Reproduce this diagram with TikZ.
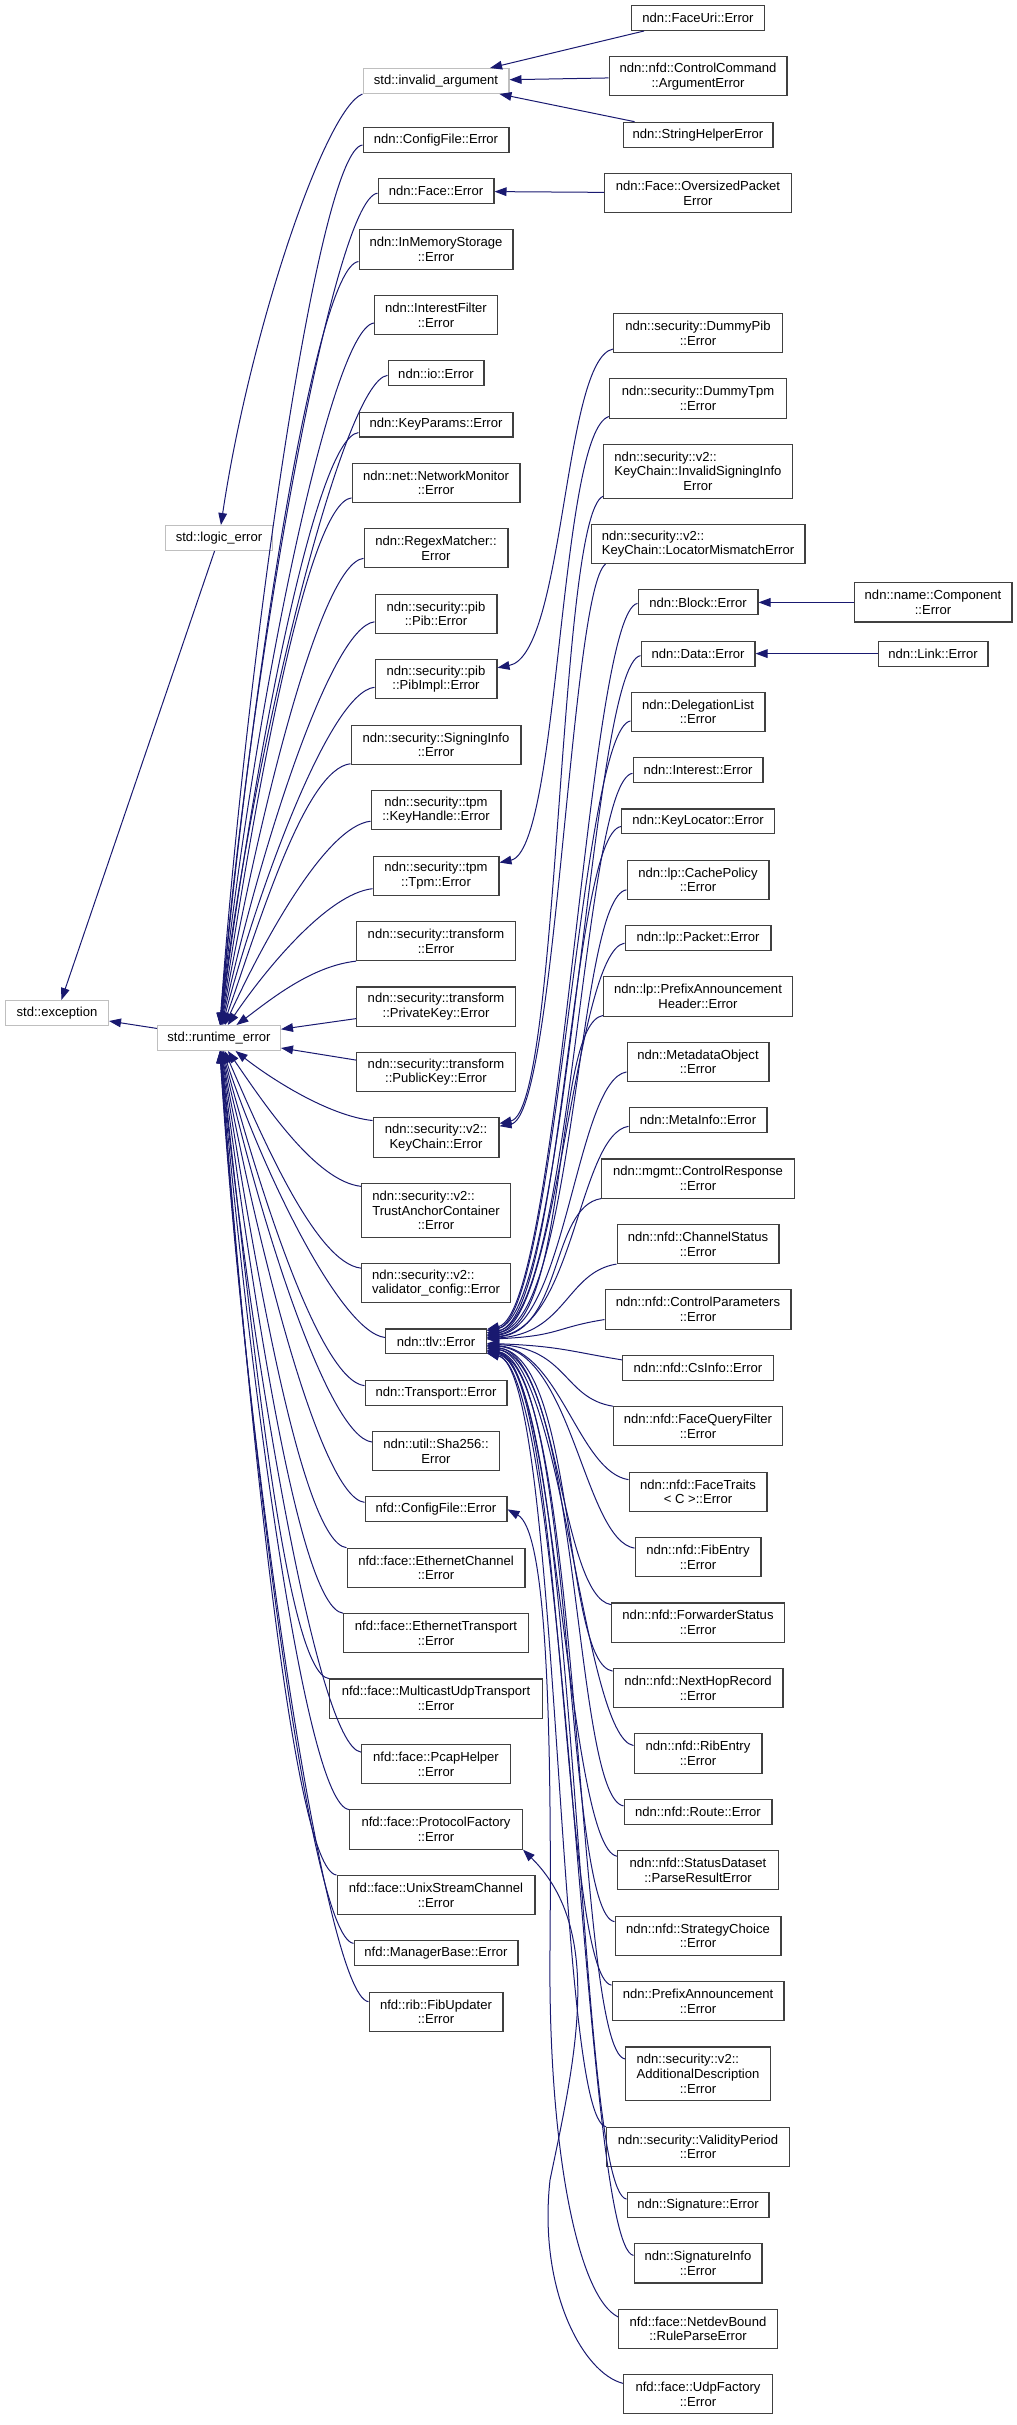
\documentclass[tikz,border=0pt]{standalone}
\usepackage{fontspec}
\setmainfont{Liberation Sans}
\usetikzlibrary{positioning, calc, arrows.meta}
\definecolor{edgeblue}{HTML}{191970}
\definecolor{extgray}{HTML}{BFBFBF}
\definecolor{clsgray}{HTML}{404040}
\tikzstyle{cls} = [rectangle, draw=clsgray, fill=white, line width=0.8pt, inner sep=1pt, minimum height=18.7pt, align=center, font=\fontsize{9.8}{11}\selectfont]
\tikzstyle{ext} = [cls, draw=extgray]
\tikzstyle{ln2} = [minimum height=29.4pt]
\tikzstyle{ln3} = [minimum height=40.4pt]
\tikzset{bw/.style={minimum width=#1*0.75pt-0.8pt}}
\tikzstyle{subclass} = [draw=edgeblue, line width=0.75pt, ->, >={Triangle[length=9pt, width=6.5pt]}]
\newcommand{\leftpad}[2]{\rlap{#1}\phantom{#2}}

\begin{document}
\begin{tikzpicture}[x=0.75pt, y=-0.75pt, node distance=18.9pt]
\useasboundingbox (0,0) rectangle (1017,2425);
%std classes
\node (exc) [ext, bw=104] at (57,1013) {std::exception};
\node (rt) [ext, bw=124] at (219,1038) {std::runtime\_error};
\node (logic) [ext, bw=108] at (219,538) {std::logic\_error};
\node (inv) [ext, bw=147] at (436,81) {std::invalid\_argument};
%left column
\node (ndncfg) [cls, bw=147] at (436,140) {ndn::ConfigFile::Error};
\node (face) [cls, bw=117, below=of ndncfg] {ndn::Face::Error};
\node (inmem) [cls, ln2, bw=155, below=of face] {ndn::InMemoryStorage\\::Error};
\node (intf) [cls, ln2, bw=124, below=of inmem] {ndn::InterestFilter\\::Error};
\node (io) [cls, bw=97, below=of intf] {ndn::io::Error};
\node (keyparams) [cls, bw=155, below=of io] {ndn::KeyParams::Error};
\node (netmon) [cls, ln2, bw=169, below=of keyparams] {ndn::net::NetworkMonitor\\::Error};
\node (regex) [cls, ln2, bw=145, below=of netmon] {ndn::RegexMatcher::\\Error};
\node (pib) [cls, ln2, bw=123, below=of regex] {ndn::security::pib\\::Pib::Error};
\node (pibimpl) [cls, ln2, bw=123, below=of pib] {ndn::security::pib\\::PibImpl::Error};
\node (signinfo) [cls, ln2, bw=171, below=of pibimpl] {ndn::security::SigningInfo\\::Error};
\node (keyhandle) [cls, ln2, bw=131, below=of signinfo] {ndn::security::tpm\\::KeyHandle::Error};
\node (tpm) [cls, ln2, bw=127, below=of keyhandle] {ndn::security::tpm\\::Tpm::Error};
\node (transform) [cls, ln2, bw=160, below=of tpm] {ndn::security::transform\\::Error};
\node (privkey) [cls, ln2, bw=160, below=of transform] {ndn::security::transform\\::PrivateKey::Error};
\node (pubkey) [cls, ln2, bw=160, below=of privkey] {ndn::security::transform\\::PublicKey::Error};
\node (keychain) [cls, ln2, bw=127, below=of pubkey] {ndn::security::v2::\\KeyChain::Error};
\node (trust) [cls, ln3, bw=150, below=of keychain] {\leftpad{ndn::security::v2::}{TrustAnchorContainer}\\TrustAnchorContainer\\::Error};
\node (validator) [cls, ln2, bw=150, below=of trust] {\leftpad{ndn::security::v2::}{validator\_config::Error}\\validator\_config::Error};
\node (tlv) [cls, bw=102, below=of validator] {ndn::tlv::Error};
\node (transport) [cls, bw=143, below=of tlv] {ndn::Transport::Error};
\node (sha) [cls, ln2, bw=128, below=of transport] {ndn::util::Sha256::\\Error};
\node (nfdcfg) [cls, bw=143, below=of sha] {nfd::ConfigFile::Error};
\node (ethch) [cls, ln2, bw=179, below=of nfdcfg] {nfd::face::EthernetChannel\\::Error};
\node (ethtr) [cls, ln2, bw=186, below=of ethch] {nfd::face::EthernetTransport\\::Error};
\node (mcast) [cls, ln2, bw=214, below=of ethtr] {nfd::face::MulticastUdpTransport\\::Error};
\node (pcap) [cls, ln2, bw=150, below=of mcast] {nfd::face::PcapHelper\\::Error};
\node (protocol) [cls, ln2, bw=174, below=of pcap] {nfd::face::ProtocolFactory\\::Error};
\node (unix) [cls, ln2, bw=199, below=of protocol] {nfd::face::UnixStreamChannel\\::Error};
\node (manager) [cls, bw=165, below=of unix] {nfd::ManagerBase::Error};
\node (fibupd) [cls, ln2, bw=135, below=of manager] {nfd::rib::FibUpdater\\::Error};
%right column, top
\node (faceuri) [cls, bw=134] at (698,18) {ndn::FaceUri::Error};
\node (ctrlcmd) [cls, ln2, bw=179, below=of faceuri] {ndn::nfd::ControlCommand\\::ArgumentError};
\node (strhelper) [cls, bw=151, below=of ctrlcmd] {ndn::StringHelperError};
\node (oversized) [cls, ln2, bw=188, below=of strhelper] {ndn::Face::OversizedPacket\\Error};
%right column
\node (dummypib) [cls, ln2, bw=170] at (698,333) {ndn::security::DummyPib\\::Error};
\node (dummytpm) [cls, ln2, bw=178, below=of dummypib] {ndn::security::DummyTpm\\::Error};
\node (invsign) [cls, ln3, bw=190, below=of dummytpm] {\leftpad{ndn::security::v2::}{KeyChain::InvalidSigningInfo}\\KeyChain::InvalidSigningInfo\\Error};
\node (locmis) [cls, ln2, bw=215, below=of invsign] {\leftpad{ndn::security::v2::}{KeyChain::LocatorMismatchError}\\KeyChain::LocatorMismatchError};
\node (block) [cls, bw=121, below=of locmis] {ndn::Block::Error};
\node (data) [cls, bw=115, below=of block] {ndn::Data::Error};
\node (deleg) [cls, ln2, bw=135, below=of data] {ndn::DelegationList\\::Error};
\node (interest) [cls, bw=131, below=of deleg] {ndn::Interest::Error};
\node (keyloc) [cls, bw=154, below=of interest] {ndn::KeyLocator::Error};
\node (cache) [cls, ln2, bw=143, below=of keyloc] {ndn::lp::CachePolicy\\::Error};
\node (packet) [cls, bw=147, below=of cache] {ndn::lp::Packet::Error};
\node (pahdr) [cls, ln2, bw=190, below=of packet] {ndn::lp::PrefixAnnouncement\\Header::Error};
\node (metadata) [cls, ln2, bw=143, below=of pahdr] {ndn::MetadataObject\\::Error};
\node (metainfo) [cls, bw=139, below=of metadata] {ndn::MetaInfo::Error};
\node (ctrlresp) [cls, ln2, bw=194, below=of metainfo] {ndn::mgmt::ControlResponse\\::Error};
\node (chstatus) [cls, ln2, bw=163, below=of ctrlresp] {ndn::nfd::ChannelStatus\\::Error};
\node (ctrlparams) [cls, ln2, bw=187, below=of chstatus] {ndn::nfd::ControlParameters\\::Error};
\node (csinfo) [cls, bw=152, below=of ctrlparams] {ndn::nfd::CsInfo::Error};
\node (fqfilter) [cls, ln2, bw=170, below=of csinfo] {ndn::nfd::FaceQueryFilter\\::Error};
\node (facetraits) [cls, ln2, bw=139, below=of fqfilter] {ndn::nfd::FaceTraits\\< C >::Error};
\node (fibentry) [cls, ln2, bw=127, below=of facetraits] {ndn::nfd::FibEntry\\::Error};
\node (fwdstatus) [cls, ln2, bw=174, below=of fibentry] {ndn::nfd::ForwarderStatus\\::Error};
\node (nexthop) [cls, ln2, bw=171, below=of fwdstatus] {ndn::nfd::NextHopRecord\\::Error};
\node (ribentry) [cls, ln2, bw=129, below=of nexthop] {ndn::nfd::RibEntry\\::Error};
\node (route) [cls, bw=149, below=of ribentry] {ndn::nfd::Route::Error};
\node (statusds) [cls, ln2, bw=162, below=of route] {ndn::nfd::StatusDataset\\::ParseResultError};
\node (strategy) [cls, ln2, bw=167, below=of statusds] {ndn::nfd::StrategyChoice\\::Error};
\node (prefixann) [cls, ln2, bw=173, below=of strategy] {ndn::PrefixAnnouncement\\::Error};
\node (adddesc) [cls, ln3, bw=146, below=of prefixann] {\leftpad{ndn::security::v2::}{AdditionalDescription}\\AdditionalDescription\\::Error};
\node (validity) [cls, ln2, bw=184, below=of adddesc] {ndn::security::ValidityPeriod\\::Error};
\node (signature) [cls, bw=143, below=of validity] {ndn::Signature::Error};
\node (siginfo) [cls, ln2, bw=129, below=of signature] {ndn::SignatureInfo\\::Error};
\node (netdev) [cls, ln2, bw=160, below=of siginfo] {nfd::face::NetdevBound\\::RuleParseError};
\node (udp) [cls, ln2, bw=150, below=of netdev] {nfd::face::UdpFactory\\::Error};
%far right
\node (comp) [cls, ln2, bw=159, right=71.25pt of block] {ndn::name::Component\\::Error};
\node (link) [cls, bw=111, right=91.5pt of data] {ndn::Link::Error};

%std hierarchy
\draw [subclass] (logic) -- (exc);
\draw [subclass] (rt) -- (exc);
\draw [subclass] (inv.south west) .. controls +(-37,14) and (250,330) .. (logic);
\draw [subclass] (faceuri) -- (inv);
\draw [subclass] (ctrlcmd) -- (inv);
\draw [subclass] (strhelper) -- (inv);
\draw [subclass] (oversized) -- (face);
\draw [subclass] (comp) -- (block);
\draw [subclass] (link) -- (data);

%runtime_error subclasses
\foreach \ch/\oy/\cx/\cy in {ndncfg/5/245/674, face/2/247/692, inmem/12/247/720, intf/8/248/744, io/2/249/766, keyparams/8/250/788, netmon/15/252/815, regex/10/254/839, pib/8/256/864, pibimpl/8/258/890, signinfo/19/260/920, keyhandle/11/262/944, tpm/13/265/970, transform/20/270/1000}
  \draw [subclass] ($(\ch.west)+(0,\oy)$) .. controls +(-45,5) and (\cx,\cy) .. (rt);
\draw [subclass] ($(privkey.west)+(0,12)$) -- (rt);
\draw [subclass] ($(pubkey.west)+(0,-12)$) -- (rt);
\foreach \ch/\oy/\cx/\cy in {keychain/-17/270/1078, trust/-24/265/1105, validator/-15/262/1137, tlv/-4/260/1165, transport/-7/258/1185, sha/-9/256/1207, nfdcfg/-7/254/1231, ethch/-20/252/1250, ethtr/-20/250/1276, mcast/-20/249/1302, pcap/-12/248/1331, protocol/-20/247/1354, unix/-20/246/1381, manager/-10/245/1408, fibupd/-10/244/1431}
  \draw [subclass] ($(\ch.west)+(0,\oy)$) .. controls +(-45,-5) and (\cx,\cy) .. (rt);

%tlv::Error subclasses
\foreach \ch/\oy/\cx/\cy in {block/1/560/1312, data/2/568/1314, deleg/9/556/1316, interest/3/572/1318, keyloc/5/562/1320, cache/10/576/1322, packet/5/558/1324, pahdr/19/570/1326, metadata/10/566/1328, metainfo/6/574/1330, ctrlresp/20/562/1332, chstatus/20/566/1334, ctrlparams/10/560/1336}
  \draw [subclass] ($(\ch.west)+(0,\oy)$) .. controls +(-50,8) and (\cx,\cy) .. (tlv);
\foreach \ch/\oy/\cx/\cy in {csinfo/-8/560/1346, fqfilter/-20/568/1348, facetraits/-12/560/1350, fibentry/-9/572/1352, fwdstatus/-18/558/1354, nexthop/-17/576/1356, ribentry/-8/562/1358, route/-6/580/1360, statusds/-14/556/1362, strategy/-14/574/1364, prefixann/-16/564/1366, adddesc/-15/582/1368, validity/-20/560/1370, signature/-6/578/1371, siginfo/-8/568/1372}
  \draw [subclass] ($(\ch.west)+(0,\oy)$) .. controls +(-50,-8) and (\cx,\cy) .. (tlv);

%security and nfd subclasses
\draw [subclass] ($(dummypib.west)+(0,16)$) .. controls +(-50,10) and (565,655) .. (pibimpl);
\draw [subclass] ($(dummytpm.west)+(0,18)$) .. controls +(-50,15) and (560,850) .. (tpm);
\draw [subclass] ($(invsign.west)+(0,25)$) .. controls +(-45,20) and (560,1110) .. (keychain);
\draw [subclass] ($(locmis.south west)+(15,0)$) .. controls +(-35,25) and (556,1116) .. (keychain);
\draw [subclass] ($(netdev.west)+(0,-12)$) .. controls +(-40,-20) and (548,2150) .. (550,1950) .. controls (552,1700) and (545,1530) .. (nfdcfg.east);
\draw [subclass] ($(udp.west)+(0,-11)$) .. controls +(-40,-10) and (538,2290) .. (550,2180) .. controls (575,2060) and (605,1930) .. (protocol.south east);
\end{tikzpicture}
\end{document}
